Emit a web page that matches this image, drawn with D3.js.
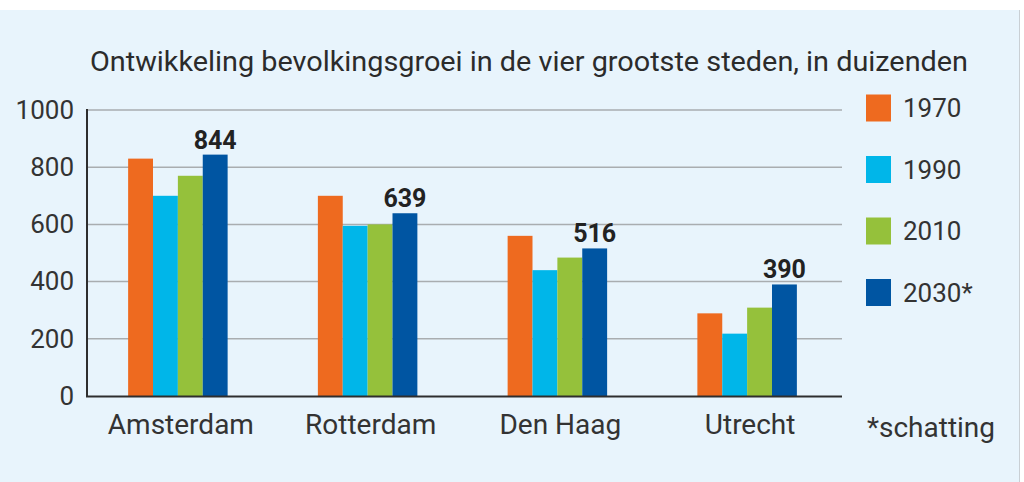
<!DOCTYPE html>
<html><head><meta charset="utf-8">
<script src="https://cdn.jsdelivr.net/npm/d3@7"></script>
<style>
html,body{margin:0;padding:0;background:#fff;}
svg{display:block;font-family:Roboto,"DejaVu Sans",sans-serif;}
</style></head>
<body><svg id="c" width="1024" height="482"></svg>
<script>
const categories = ["Amsterdam", "Rotterdam", "Den Haag", "Utrecht"];
const seriesNames = ["1970", "1990", "2010", "2030*"];
const v1970 = [830, 700, 560, 289];
const v1990 = [700, 595, 440, 218];
const v2010 = [770, 600, 484, 309];
const v2030 = [844, 639, 516, 390];
const yTicks = [0, 200, 400, 600, 800, 1000];
const colors = ["#ee6a1f", "#00b6e9", "#95c13b", "#0055a2"];
const titleText = "Ontwikkeling bevolkingsgroei in de vier grootste steden, in duizenden";
const footnote = "*schatting";

const series = [v1970, v1990, v2010, v2030];
const svg = d3.select("#c");

// background panel
svg.append("rect").attr("x", 0).attr("y", 10).attr("width", 1019).attr("height", 472).attr("fill", "#e8f4fc");
svg.append("line").attr("x1", 1019.5).attr("x2", 1019.5).attr("y1", 10).attr("y2", 482).attr("stroke", "#c9cfd4").attr("stroke-width", 1);

const y = d3.scaleLinear().domain([0, 1000]).range([396, 110]);
const x = d3.scaleBand().domain(categories).range([82.5, 841.5]).paddingInner(0).paddingOuter(0);
const xi = d3.scaleBand().domain(seriesNames).range([0, 99.5]);
const groupOffset = (x.bandwidth() - 99.5) / 2 + 0.5;

// title
svg.append("text").attr("x", 90).attr("y", 71).attr("font-size", 27).attr("fill", "#2b2b2b")
  .attr("textLength", 878).attr("lengthAdjust", "spacingAndGlyphs").text(titleText);

// gridlines
svg.append("g").selectAll("line").data(yTicks.filter(d => d > 0)).join("line")
  .attr("x1", 87).attr("x2", 842).attr("y1", d => y(d)).attr("y2", d => y(d))
  .attr("stroke", "#a9adb0").attr("stroke-width", 1.5);

// y axis
const ya = svg.append("g").attr("transform", "translate(87,0)")
  .call(d3.axisLeft(y).tickValues(yTicks).tickFormat(d3.format("d")).tickSize(0).tickPadding(13));
ya.select(".domain").remove();
ya.selectAll("text").attr("font-size", 26).attr("fill", "#333").attr("font-family", "Roboto");

// bars
const groups = svg.append("g").selectAll("g").data(categories).join("g")
  .attr("transform", d => `translate(${x(d) + groupOffset},0)`);
groups.selectAll("rect").data((c, i) => series.map((s, j) => ({name: seriesNames[j], v: s[i], j}))).join("rect")
  .attr("x", d => xi(d.name)).attr("width", xi.bandwidth())
  .attr("y", d => y(d.v)).attr("height", d => y(0) - y(d.v))
  .attr("fill", d => colors[d.j]);

// value labels for 2030
groups.append("text")
  .attr("x", (c) => xi(seriesNames[3]) + xi.bandwidth() / 2)
  .attr("y", (c, i) => y(v2030[i]) - 6)
  .attr("text-anchor", "middle").attr("font-size", 25).attr("font-weight", "bold").attr("fill", "#222")
  .text((c, i) => v2030[i]);

// axis lines
svg.append("line").attr("x1", 87).attr("x2", 87).attr("y1", 109).attr("y2", 397).attr("stroke", "#2e2e2e").attr("stroke-width", 2);
svg.append("line").attr("x1", 86).attr("x2", 842).attr("y1", 396.5).attr("y2", 396.5).attr("stroke", "#2e2e2e").attr("stroke-width", 2);

// x axis labels
const xa = svg.append("g").attr("transform", "translate(3.5,396)")
  .call(d3.axisBottom(x).tickSize(0).tickPadding(18));
xa.select(".domain").remove();
xa.selectAll("text").attr("font-size", 28).attr("fill", "#333").attr("font-family", "Roboto");

// legend
const leg = svg.append("g").selectAll("g").data(seriesNames).join("g")
  .attr("transform", (d, i) => `translate(866,${108 + i * 61.5})`);
leg.append("rect").attr("x", 0).attr("y", -13.5).attr("width", 25).attr("height", 27)
  .attr("fill", (d, i) => colors[i]);
leg.append("text").attr("x", 37).attr("y", 0).attr("dy", "0.35em").attr("font-size", 26).attr("fill", "#333").text(d => d);

svg.append("text").attr("x", 867).attr("y", 428).attr("dy", "0.35em").attr("font-size", 27).attr("fill", "#333")
  .attr("textLength", 128).attr("lengthAdjust", "spacingAndGlyphs").text(footnote);
</script>
</body></html>
